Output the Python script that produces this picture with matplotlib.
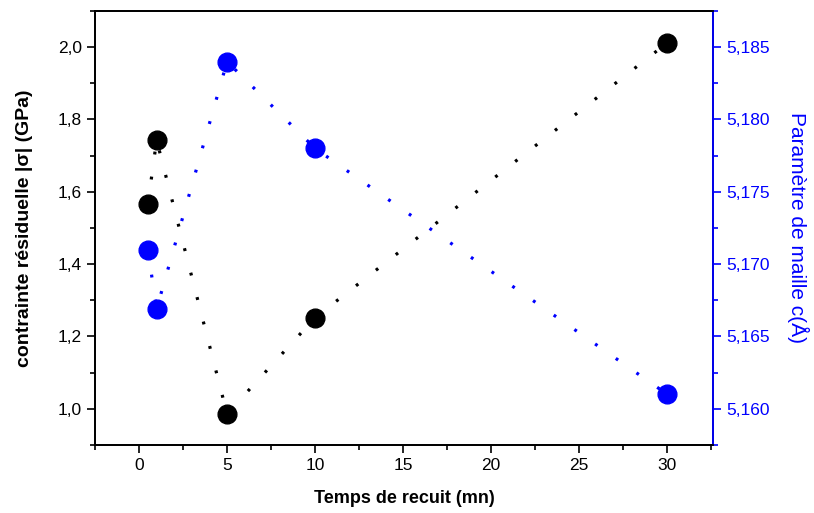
import matplotlib
matplotlib.use("Agg")
import matplotlib.pyplot as plt
from matplotlib.ticker import MultipleLocator, FuncFormatter

plt.rcParams['font.family'] = ['Liberation Sans', 'DejaVu Sans']

# data
temps = [0.5, 1, 5, 10, 30]
contrainte = [1.565, 1.743, 0.986, 1.252, 2.012]
parametre_c = [5.1710, 5.1669, 5.1840, 5.1780, 5.1610]

fig = plt.figure(figsize=(8.14, 5.13), dpi=100)
ax1 = fig.add_axes([0.1167, 0.1326, 0.7593, 0.846])
ax2 = ax1.twinx()

dots = (0, (0.9, 7))
ax1.plot(temps, contrainte, color='black', linestyle=dots, linewidth=2.3,
         marker='o', markersize=13.5, zorder=3)
ax2.plot(temps, parametre_c, color='blue', linestyle=dots, linewidth=2.3,
         marker='o', markersize=13.5, zorder=3)

ax1.set_xlim(-2.5, 32.6)
ax1.set_ylim(0.9, 2.1)
ax2.set_ylim(5.1575, 5.1875)

ax1.xaxis.set_major_locator(MultipleLocator(5))
ax1.xaxis.set_minor_locator(MultipleLocator(2.5))
ax1.yaxis.set_major_locator(MultipleLocator(0.2))
ax1.yaxis.set_minor_locator(MultipleLocator(0.1))
ax2.yaxis.set_major_locator(MultipleLocator(0.005))
ax2.yaxis.set_minor_locator(MultipleLocator(0.0025))

ax1.yaxis.set_major_formatter(FuncFormatter(lambda v, p: f"{v:.1f}".replace('.', ',')))
ax2.yaxis.set_major_formatter(FuncFormatter(lambda v, p: f"{v:.3f}".replace('.', ',')))

ax1.tick_params(which='both', direction='out', labelsize=12.5, width=1.2)
ax1.tick_params(which='major', length=6)
ax1.tick_params(which='minor', length=3.5)
ax2.tick_params(which='both', direction='out', labelsize=12.5, colors='blue', width=1.2)
ax2.tick_params(which='major', length=6)
ax2.tick_params(which='minor', length=3.5)

for s in ax1.spines.values():
    s.set_linewidth(1.3)
for s in ax2.spines.values():
    s.set_linewidth(1.3)
ax2.spines['right'].set_color('blue')

ax1.set_xlabel('Temps de recuit (mn)', fontsize=13, fontweight='bold', labelpad=12)
ax1.set_ylabel('contrainte résiduelle |σ| (GPa)', fontsize=14, fontweight='bold', labelpad=18)
ax2.set_ylabel('Paramètre de maille c(Å)', fontsize=15, color='blue', rotation=-90, labelpad=28)

plt.savefig('out.png', dpi=100)
